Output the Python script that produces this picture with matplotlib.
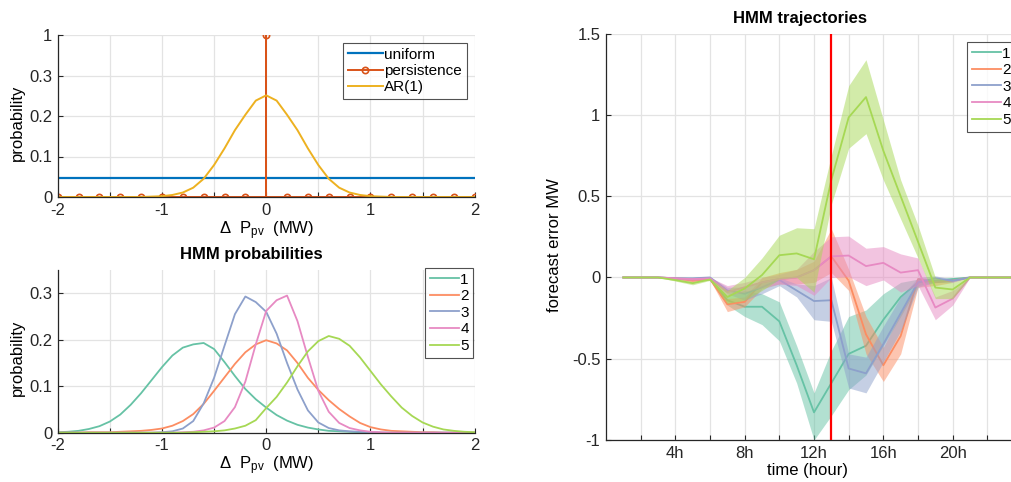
import numpy as np
import matplotlib
matplotlib.use("Agg")
import matplotlib.pyplot as plt
from matplotlib.ticker import MultipleLocator, FuncFormatter, FixedLocator

plt.rcParams['font.family'] = ['Liberation Sans', 'DejaVu Sans']
plt.rcParams['mathtext.default'] = 'regular'
plt.rcParams['axes.unicode_minus'] = False

# ---------------- data ----------------
# top-left: forecast-error distributions on a 0.2 MW grid (21 states)
state_x = [-2.0, -1.8, -1.6, -1.4, -1.2, -1.0, -0.8, -0.6, -0.4, -0.2, 0.0,
           0.2, 0.4, 0.6, 0.8, 1.0, 1.2, 1.4, 1.6, 1.8, 2.0]
uniform_p = [0.0476] * 21
persistence_p = [0, 0, 0, 0, 0, 0, 0, 0, 0, 0, 1, 0, 0, 0, 0, 0, 0, 0, 0, 0, 0]

# curves on a 0.1 MW grid
fine_x = [round(-2.0 + 0.1 * i, 1) for i in range(41)]
ar1_p = [0, 0, 0, 0, 0, 0, 0, 0, 0, 0.001,
         0.002, 0.005, 0.011, 0.023, 0.045, 0.079, 0.120, 0.165, 0.203, 0.238,
         0.251,
         0.238, 0.203, 0.165, 0.120, 0.079, 0.045, 0.023, 0.011, 0.005, 0.002,
         0.001, 0, 0, 0, 0, 0, 0, 0, 0, 0]

hmm_labels = ['1', '2', '3', '4', '5']
hmm1_p = [0.001, 0.002, 0.004, 0.008, 0.014, 0.024, 0.039, 0.060, 0.085, 0.113,
          0.141, 0.166, 0.183, 0.190, 0.193, 0.180, 0.152, 0.122, 0.094, 0.072,
          0.054,
          0.038, 0.026, 0.017, 0.011, 0.007, 0.004, 0.003, 0.002, 0.001, 0.001,
          0, 0, 0, 0, 0, 0, 0, 0, 0, 0]
hmm2_p = [0, 0, 0, 0.001, 0.001, 0.001, 0.002, 0.003, 0.004, 0.006,
          0.009, 0.015, 0.025, 0.040, 0.062, 0.090, 0.119, 0.148, 0.173, 0.190,
          0.199,
          0.192, 0.177, 0.150, 0.118, 0.092, 0.070, 0.051, 0.035, 0.021, 0.012,
          0.007, 0.004, 0.003, 0.002, 0.001, 0.001, 0, 0, 0, 0]
hmm3_p = [0, 0, 0, 0, 0, 0, 0, 0, 0, 0,
          0.001, 0.003, 0.009, 0.025, 0.063, 0.118, 0.187, 0.255, 0.293, 0.281,
          0.260,
          0.213, 0.150, 0.093, 0.048, 0.022, 0.010, 0.005, 0.003, 0.002, 0.001,
          0, 0, 0, 0, 0, 0, 0, 0, 0, 0]
hmm4_p = [0, 0, 0, 0, 0, 0, 0, 0, 0, 0,
          0, 0, 0.001, 0.002, 0.005, 0.011, 0.025, 0.055, 0.110, 0.190,
          0.262,
          0.285, 0.295, 0.240, 0.163, 0.090, 0.045, 0.021, 0.010, 0.005, 0.002,
          0.001, 0, 0, 0, 0, 0, 0, 0, 0, 0]
hmm5_p = [0, 0, 0, 0, 0, 0, 0, 0, 0, 0,
          0, 0, 0, 0.001, 0.002, 0.003, 0.005, 0.009, 0.015, 0.027,
          0.053,
          0.077, 0.108, 0.143, 0.175, 0.197, 0.208, 0.202, 0.187, 0.162, 0.133,
          0.104, 0.078, 0.054, 0.036, 0.022, 0.013, 0.007, 0.004, 0.002, 0.001]

# right: HMM trajectories (hours 1..24), mean and band
hours = list(range(1, 25))
now_hour = 13
hour_labels = ['', '4h', '', '8h', '', '12h', '', '16h', '', '20h', '', '']
traj1_mean = [0, 0, 0, -0.005, -0.01, -0.01, -0.14, -0.18, -0.18, -0.27, -0.54, -0.83,
              -0.65, -0.47, -0.42, -0.26, -0.12, -0.03, -0.02, -0.01, 0, 0, 0, 0]
traj1_low = [0, 0, 0, -0.01, -0.015, -0.015, -0.17, -0.24, -0.29, -0.39, -0.65, -1.0,
             -0.85, -0.69, -0.60, -0.42, -0.24, -0.05, -0.03, -0.02, 0, 0, 0, 0]
traj1_up = [0, 0, 0, 0, -0.005, -0.005, -0.11, -0.08, -0.10, -0.15, -0.42, -0.71,
            -0.45, -0.24, -0.20, -0.10, -0.03, -0.01, -0.01, 0, 0, 0, 0, 0]

traj2_mean = [0, 0, 0, -0.005, -0.02, -0.01, -0.165, -0.15, -0.03, -0.01, 0.0, 0.045,
              0.13, -0.02, -0.35, -0.54, -0.36, -0.01, -0.03, -0.02, 0, 0, 0, 0]
traj2_low = [0, 0, 0, -0.01, -0.03, -0.015, -0.21, -0.18, -0.07, -0.04, -0.04, -0.03,
             0.03, -0.08, -0.47, -0.64, -0.47, -0.06, -0.05, -0.03, 0, 0, 0, 0]
traj2_up = [0, 0, 0, 0, -0.01, -0.005, -0.13, -0.12, 0.0, 0.03, 0.05, 0.10,
            0.30, 0.05, -0.24, -0.43, -0.22, 0.0, -0.01, -0.01, 0, 0, 0, 0]

traj3_mean = [0, 0, 0, -0.005, -0.005, 0, -0.08, -0.10, -0.06, -0.015, -0.08, -0.145,
              -0.14, -0.56, -0.59, -0.41, -0.22, -0.03, -0.005, -0.02, 0, 0, 0, 0]
traj3_low = [0, 0, 0, -0.01, -0.01, -0.005, -0.10, -0.14, -0.10, -0.05, -0.12, -0.26,
             -0.27, -0.68, -0.71, -0.52, -0.33, -0.06, -0.03, -0.03, 0, 0, 0, 0]
traj3_up = [0, 0, 0, 0, 0, 0.005, -0.06, -0.06, -0.02, 0.0, -0.04, -0.05,
            0.0, -0.47, -0.49, -0.30, -0.12, 0.0, 0.01, -0.01, 0, 0, 0, 0]

traj4_mean = [0, 0, 0, -0.005, -0.01, -0.005, -0.09, -0.06, -0.03, -0.01, 0.0, 0.045,
              0.13, 0.135, 0.07, 0.09, 0.03, 0.045, -0.185, -0.13, 0, 0, 0, 0]
traj4_low = [0, 0, 0, -0.01, -0.02, -0.01, -0.11, -0.09, -0.06, -0.04, -0.05, -0.11,
             0.0, 0.005, -0.05, -0.015, -0.09, -0.05, -0.26, -0.17, 0, 0, 0, 0]
traj4_up = [0, 0, 0, 0, 0, 0, -0.05, -0.03, 0.0, 0.02, 0.05, 0.16,
            0.25, 0.255, 0.18, 0.19, 0.145, 0.12, -0.12, -0.08, 0, 0, 0, 0]

traj5_mean = [0, 0, 0, -0.016, -0.035, -0.012, -0.12, -0.068, 0.015, 0.137, 0.148, 0.112,
              0.60, 0.985, 1.11, 0.78, 0.50, 0.22, -0.062, -0.074, 0, 0, 0, 0]
traj5_low = [0, 0, 0, -0.022, -0.045, -0.018, -0.16, -0.14, -0.08, -0.01, 0.0, -0.09,
             0.45, 0.795, 0.885, 0.60, 0.36, 0.12, -0.13, -0.13, 0, 0, 0, 0]
traj5_up = [0, 0, 0, -0.01, -0.025, -0.006, -0.08, 0.0, 0.12, 0.26, 0.306, 0.30,
            0.75, 1.18, 1.34, 0.97, 0.60, 0.32, 0.0, -0.03, 0, 0, 0, 0]

# ---------------- style ----------------
set2 = ['#66c2a5', '#fc8d62', '#8da0cb', '#e78ac3', '#a6d854']
c_uni, c_per, c_ar = '#0072BD', '#D95319', '#EDB120'
axcol = '#262626'
gridcol = '#e3e3e3'
FS = 12
LFS = 11

W, H = 1012, 482
fig = plt.figure(figsize=(W / 100, H / 100), dpi=100)


def px_axes(x0, y0, x1, y1):
    return fig.add_axes([x0 / W, 1 - y1 / H, (x1 - x0) / W, (y1 - y0) / H])


def style(ax):
    for s in ['top', 'right']:
        ax.spines[s].set_visible(False)
    for s in ['left', 'bottom']:
        ax.spines[s].set_color(axcol)
        ax.spines[s].set_linewidth(0.9)
    ax.tick_params(direction='in', length=3.5, width=0.8, colors=axcol,
                   labelsize=FS, pad=4)
    ax.grid(True, color=gridcol, lw=0.9)
    ax.set_axisbelow(True)


def style_legend(leg):
    leg.get_frame().set_edgecolor(axcol)
    leg.get_frame().set_linewidth(0.8)


ax1 = px_axes(57.7, 35, 474.7, 197)
ax2 = px_axes(57.7, 270, 474.7, 432.7)
ax3 = px_axes(606, 33.7, 1022, 440)
for ax in (ax1, ax2, ax3):
    style(ax)

# ---- top-left ----
def fwd(y):
    y = np.asarray(y, dtype=float)
    return np.where(y <= 0.3, y, 0.3 + (y - 0.3) / 7.0)


def inv(y):
    y = np.asarray(y, dtype=float)
    return np.where(y <= 0.3, y, 0.3 + (y - 0.3) * 7.0)


ax1.set_yscale('function', functions=(fwd, inv))
sx = np.array(state_x)
py = np.array(persistence_p, dtype=float)
k = int(np.argmax(py))
line_x = np.r_[sx[:k], sx[k], sx[k], sx[k], sx[k + 1:]]
line_y = np.r_[py[:k], 0, py[k], 0, py[k + 1:]]
marks = list(range(k)) + [k + 1] + list(range(k + 3, len(line_x)))

ax1.plot(state_x, uniform_p, color=c_uni, lw=1.6, label='uniform')
ax1.plot(line_x, line_y, color=c_per, lw=1.4, marker='o', markevery=marks,
         ms=4.5, mfc='none', mew=1.2, label='persistence')
ax1.plot(fine_x, ar1_p, color=c_ar, lw=1.4, label='AR(1)')
ax1.set_xlim(-2, 2)
ax1.set_ylim(0, 1)
ax1.yaxis.set_major_locator(FixedLocator([0, 0.1, 0.2, 0.3, 1]))
ax1.yaxis.set_minor_locator(FixedLocator([]))
ax1.yaxis.set_major_formatter(FuncFormatter(lambda v, p: '%g' % v))

leg1 = ax1.legend(loc='upper left', bbox_to_anchor=(343 / W, 1 - 43 / H),
                  bbox_transform=fig.transFigure, borderaxespad=0,
                  fontsize=LFS, frameon=True, fancybox=False, handlelength=2.3,
                  handletextpad=0.1, labelspacing=0.15, borderpad=0.3)
style_legend(leg1)

# ---- bottom-left ----
for ys, c, lab in zip([hmm1_p, hmm2_p, hmm3_p, hmm4_p, hmm5_p], set2, hmm_labels):
    ax2.plot(fine_x, ys, color=c, lw=1.3, label=lab)
ax2.set_xlim(-2, 2)
ax2.set_ylim(0, 0.35)
ax2.yaxis.set_major_locator(FixedLocator([0, 0.1, 0.2, 0.3]))
ax2.yaxis.set_major_formatter(FuncFormatter(lambda v, p: '%g' % v))
leg2 = ax2.legend(loc='upper left', bbox_to_anchor=(425 / W, 1 - 268 / H),
                  bbox_transform=fig.transFigure, borderaxespad=0,
                  fontsize=LFS, frameon=True, fancybox=False, handlelength=1.9,
                  handletextpad=0.1, labelspacing=0.17, borderpad=0.3)
style_legend(leg2)
fig.text(251.7 / W, 1 - 255 / H, 'HMM probabilities',
         ha='center', va='center', fontsize=12, fontweight='bold')

for ax, ycoord in ((ax1, 0.459), (ax2, 0.462)):
    ax.xaxis.set_major_locator(MultipleLocator(0.5))
    ax.xaxis.set_major_formatter(FuncFormatter(
        lambda v, p: ('%d' % round(v)) if abs(v - round(v)) < 1e-9 else ''))
    ax.set_xlabel(r'$\Delta$  P$_{pv}$  (MW)', fontsize=FS, labelpad=1)
    ax.set_ylabel('probability', fontsize=FS)
    ax.yaxis.set_label_coords(-0.078, ycoord)

# ---- right ----
means = [traj1_mean, traj2_mean, traj3_mean, traj4_mean, traj5_mean]
lows = [traj1_low, traj2_low, traj3_low, traj4_low, traj5_low]
ups = [traj1_up, traj2_up, traj3_up, traj4_up, traj5_up]
for i, (m, lo, up, c, lab) in enumerate(zip(means, lows, ups, set2, hmm_labels)):
    ax3.fill_between(hours, lo, up, color=c, alpha=0.5, lw=0, zorder=2 + 0.1 * i)
    ax3.plot(hours, m, color=c, lw=1.3, label=lab, zorder=2.05 + 0.1 * i)
ax3.axvline(now_hour, color='#ff0000', lw=1.6, zorder=5)
ax3.set_xlim(0, 24)
ax3.set_ylim(-1, 1.5)
ax3.xaxis.set_major_locator(FixedLocator(list(range(2, 25, 2))))
ax3.xaxis.set_major_formatter(FuncFormatter(
    lambda v, p: hour_labels[int(round(v)) // 2 - 1] if 2 <= round(v) <= 24 else ''))
ax3.yaxis.set_major_locator(MultipleLocator(0.5))
ax3.yaxis.set_major_formatter(FuncFormatter(lambda v, p: '%g' % v))
ax3.set_xlabel('time (hour)', fontsize=FS)
ax3.xaxis.set_label_coords((807.5 - 606) / 416, -(463 - 440) / 406.3)
ax3.set_ylabel('forecast error MW', fontsize=FS)
ax3.yaxis.set_label_coords(-0.105, 0.481)
fig.text(800 / W, 1 - 18 / H, 'HMM trajectories',
         ha='center', va='center', fontsize=12, fontweight='bold')
leg3 = ax3.legend(loc='upper left', bbox_to_anchor=(967 / W, 1 - 42 / H),
                  bbox_transform=fig.transFigure, borderaxespad=0,
                  fontsize=LFS, frameon=True, fancybox=False, handlelength=1.9,
                  handletextpad=0.1, labelspacing=0.17, borderpad=0.3)
style_legend(leg3)

fig.savefig('out.png', dpi=100)
